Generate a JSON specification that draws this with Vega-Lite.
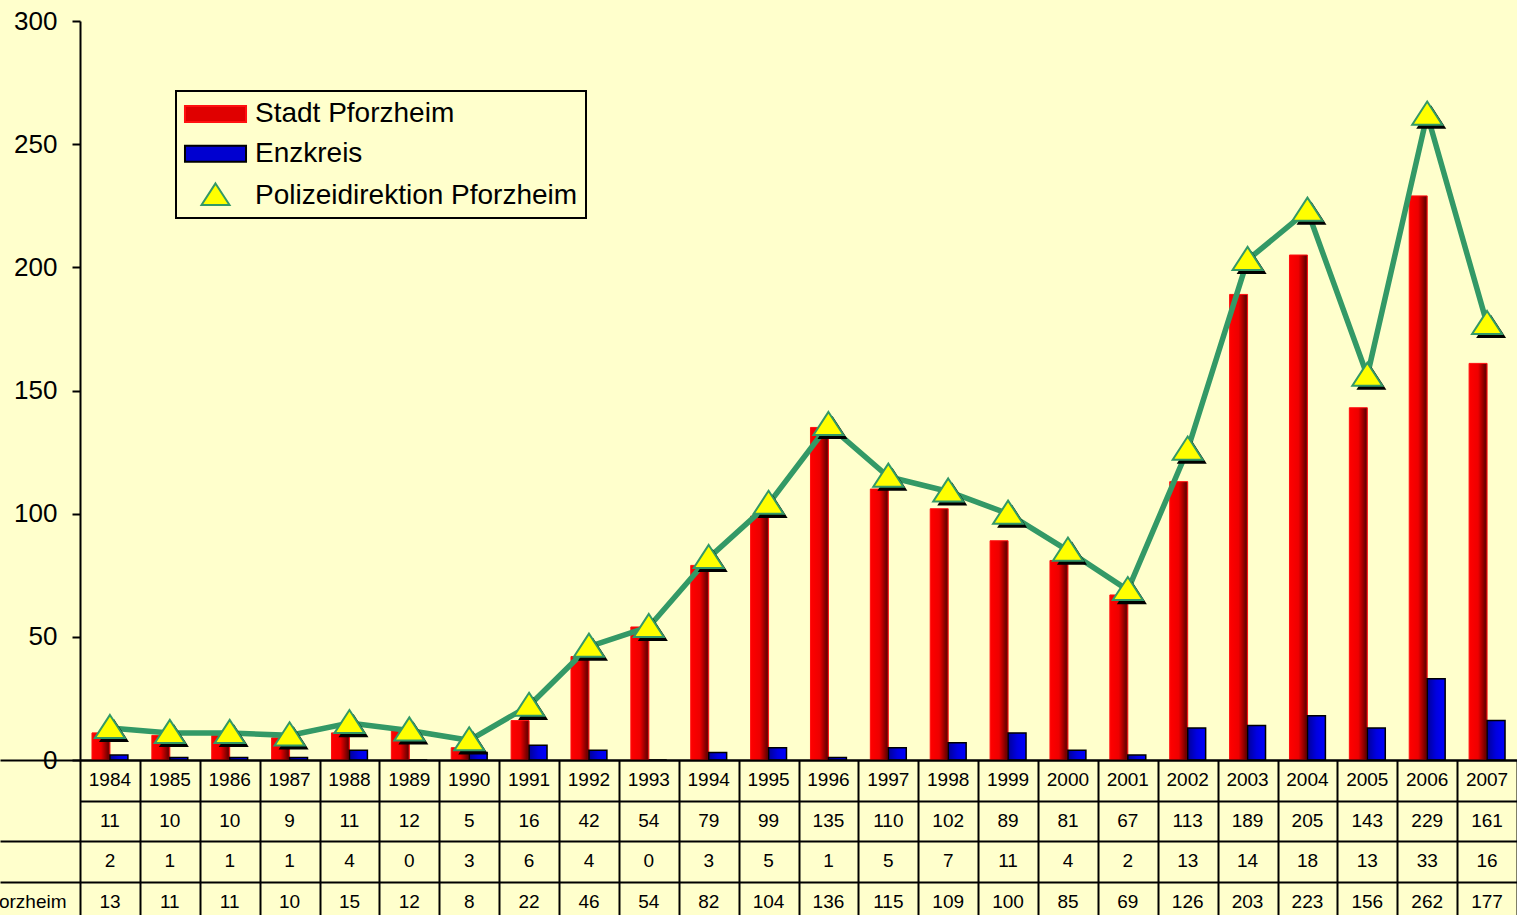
{
  "$schema": "https://vega.github.io/schema/vega-lite/v6.json",
  "autosize": {"type": "none"},
  "padding": {"left": 80, "top": 21, "right": 0, "bottom": 0},
  "params": [{"name": "width", "value": 1437}, {"name": "height", "value": 894}],
  "background": "#FFFFCC",
  "bounds": "flush",
  "spacing": 0,
  "config": {"view": {"stroke": null}, "font": "Liberation Sans", "legend": {"strokeWidth": 2}},
  "data": {
    "values": [
      {"year": "1984", "s": 11, "e": 2, "p": 13},
      {"year": "1985", "s": 10, "e": 1, "p": 11},
      {"year": "1986", "s": 10, "e": 1, "p": 11},
      {"year": "1987", "s": 9, "e": 1, "p": 10},
      {"year": "1988", "s": 11, "e": 4, "p": 15},
      {"year": "1989", "s": 12, "e": 0, "p": 12},
      {"year": "1990", "s": 5, "e": 3, "p": 8},
      {"year": "1991", "s": 16, "e": 6, "p": 22},
      {"year": "1992", "s": 42, "e": 4, "p": 46},
      {"year": "1993", "s": 54, "e": 0, "p": 54},
      {"year": "1994", "s": 79, "e": 3, "p": 82},
      {"year": "1995", "s": 99, "e": 5, "p": 104},
      {"year": "1996", "s": 135, "e": 1, "p": 136},
      {"year": "1997", "s": 110, "e": 5, "p": 115},
      {"year": "1998", "s": 102, "e": 7, "p": 109},
      {"year": "1999", "s": 89, "e": 11, "p": 100},
      {"year": "2000", "s": 81, "e": 4, "p": 85},
      {"year": "2001", "s": 67, "e": 2, "p": 69},
      {"year": "2002", "s": 113, "e": 13, "p": 126},
      {"year": "2003", "s": 189, "e": 14, "p": 203},
      {"year": "2004", "s": 205, "e": 18, "p": 223},
      {"year": "2005", "s": 143, "e": 13, "p": 156},
      {"year": "2006", "s": 229, "e": 33, "p": 262},
      {"year": "2007", "s": 161, "e": 16, "p": 177}
    ]
  },
  "vconcat": [
    {
      "width": 1440,
      "height": 739,
      "layer": [
        {
          "mark": {
            "type": "bar",
            "strokeWidth": 1,
            "fill": {"gradient": "linear", "x1": 0, "x2": 1, "y1": 0, "y2": 0,
              "stops": [{"offset": 0, "color": "#FF0000"}, {"offset": 0.5, "color": "#EE0000"}, {"offset": 0.9, "color": "#6E0000"}, {"offset": 1, "color": "#900000"}]}
          },
          "encoding": {
            "x": {"field": "year", "type": "nominal", "scale": {"type": "band", "paddingInner": 0, "paddingOuter": 0},
              "axis": {"title": null, "labels": false, "ticks": false, "grid": false, "domainColor": "black", "domainWidth": 2}},
            "xOffset": {"datum": "Stadt Pforzheim", "type": "nominal", "scale": {"domain": ["Stadt Pforzheim", "Enzkreis"], "paddingInner": 0, "paddingOuter": 0.6667}},
            "y": {"field": "s", "type": "quantitative", "scale": {"domain": [0, 300], "nice": false},
              "axis": {"title": null, "values": [0, 50, 100, 150, 200, 250, 300], "grid": false, "domainColor": "black", "domainWidth": 2,
                "tickColor": "black", "tickWidth": 2, "tickSize": 8, "labelPadding": 15, "labelFontSize": 26, "labelColor": "black"}},
            "stroke": {"datum": "Stadt Pforzheim", "type": "nominal",
              "scale": {"domain": ["Stadt Pforzheim", "Enzkreis", "Polizeidirektion Pforzheim"], "range": ["#FF1010", "#000000", "#339966"]},
              "legend": {
                "title": null, "orient": "none", "legendX": 96, "legendY": 70,
                "padding": 8, "rowPadding": 10.8, "symbolSize": 784, "symbolOffset": 16.5, "labelOffset": 24.5,
                "labelFontSize": 28, "labelColor": "black", "labelLimit": 0, "symbolStrokeWidth": 2, "symbolOpacity": 1,
                "fillColor": "#FFFFCC", "strokeColor": "black"
              }}
          }
        },
        {
          "mark": {
            "type": "bar",
            "strokeWidth": 1.5,
            "fill": {"gradient": "linear", "x1": 0, "x2": 1, "y1": 0, "y2": 0,
              "stops": [{"offset": 0, "color": "#00009A"}, {"offset": 0.5, "color": "#0000E0"}, {"offset": 1, "color": "#0000FF"}]}
          },
          "encoding": {
            "x": {"field": "year", "type": "nominal", "scale": {"type": "band"}},
            "xOffset": {"datum": "Enzkreis", "type": "nominal"},
            "y": {"field": "e", "type": "quantitative"},
            "stroke": {"datum": "Enzkreis", "type": "nominal"}
          }
        },
        {
          "mark": {"type": "line", "strokeWidth": 5.5},
          "encoding": {
            "x": {"field": "year", "type": "nominal", "scale": {"type": "band"}},
            "y": {"field": "p", "type": "quantitative"},
            "stroke": {"datum": "Polizeidirektion Pforzheim", "type": "nominal"}
          }
        },
        {
          "mark": {"type": "point", "filled": true, "fill": "#000000", "strokeWidth": 0, "opacity": 1, "size": 900,
            "shape": "M0.27,-0.6L1.27,0.94L-0.73,0.94Z"},
          "encoding": {
            "x": {"field": "year", "type": "nominal", "scale": {"type": "band"}},
            "y": {"field": "p", "type": "quantitative"}
          }
        },
        {
          "mark": {"type": "point", "filled": true, "stroke": "#339966", "strokeWidth": 2, "opacity": 1, "size": 900},
          "encoding": {
            "x": {"field": "year", "type": "nominal", "scale": {"type": "band"}},
            "y": {"field": "p", "type": "quantitative"},
            "shape": {"datum": "Polizeidirektion Pforzheim", "type": "nominal",
              "scale": {"domain": ["Stadt Pforzheim", "Enzkreis", "Polizeidirektion Pforzheim"],
                "range": ["M-2.18,-0.57H2.18V0.57H-2.18Z", "M-2.18,-0.57H2.18V0.57H-2.18Z", "M0,-0.87L1,0.67L-1,0.67Z"]},
              "legend": {
                "title": null, "orient": "none", "legendX": 96, "legendY": 70,
                "padding": 8, "rowPadding": 10.8, "symbolSize": 784, "symbolOffset": 16.5, "labelOffset": 24.5,
                "labelFontSize": 28, "labelColor": "black", "labelLimit": 0, "symbolStrokeWidth": 2, "symbolOpacity": 1,
                "fillColor": "#FFFFCC", "strokeColor": "black"
              }},
            "fill": {"datum": "Polizeidirektion Pforzheim", "type": "nominal",
              "scale": {"domain": ["Stadt Pforzheim", "Enzkreis", "Polizeidirektion Pforzheim"],
                "range": ["#E00000", "#0000D0", "#FFFF00"]},
              "legend": {
                "title": null, "orient": "none", "legendX": 96, "legendY": 70,
                "padding": 8, "rowPadding": 10.8, "symbolSize": 784, "symbolOffset": 16.5, "labelOffset": 24.5,
                "labelFontSize": 28, "labelColor": "black", "labelLimit": 0, "symbolStrokeWidth": 2, "symbolOpacity": 1,
                "fillColor": "#FFFFCC", "strokeColor": "black"
              }}
          }
        }
      ]
    },
    {
      "width": 1440,
      "height": 162,
      "layer": [
        {
          "mark": {"type": "text", "fontSize": 19, "color": "#000000"},
          "encoding": {
            "x": {"field": "year", "type": "nominal", "scale": {"type": "band", "paddingInner": 0, "paddingOuter": 0},
              "axis": {"title": null, "orient": "top", "labels": false, "ticks": false, "domain": false, "grid": true, "gridColor": "black", "gridWidth": 2, "gridOpacity": 1, "tickBand": "extent"}},
            "y": {"datum": "year", "type": "nominal", "scale": {"type": "band", "domain": ["year", "s", "e", "p"], "paddingInner": 0, "paddingOuter": 0},
              "axis": {"title": null, "domain": false, "grid": true, "gridColor": "black", "gridWidth": 2, "gridOpacity": 1, "tickBand": "extent",
                "ticks": true, "tickSize": 80, "tickWidth": 2,
                "tickColor": {"condition": {"test": "datum.value === 'year'", "value": "transparent"}, "value": "black"},
                "labelAlign": "left", "labelPadding": 152.6, "labelFontSize": 19, "labelColor": "black", "labelLimit": 0,
                "labelExpr": "datum.value === 'p' ? 'Polizeidirektion Pforzheim' : datum.value === 's' ? 'Stadt Pforzheim' : datum.value === 'e' ? 'Enzkreis' : ''"}},
            "text": {"field": "year", "type": "nominal"}
          }
        },
        {
          "transform": [{"fold": ["s", "e", "p"], "as": ["row", "val"]}],
          "mark": {"type": "text", "fontSize": 19, "color": "#000000"},
          "encoding": {
            "x": {"field": "year", "type": "nominal", "scale": {"type": "band"}},
            "y": {"field": "row", "type": "nominal"},
            "text": {"field": "val", "type": "quantitative"}
          }
        }
      ]
    }
  ]
}
